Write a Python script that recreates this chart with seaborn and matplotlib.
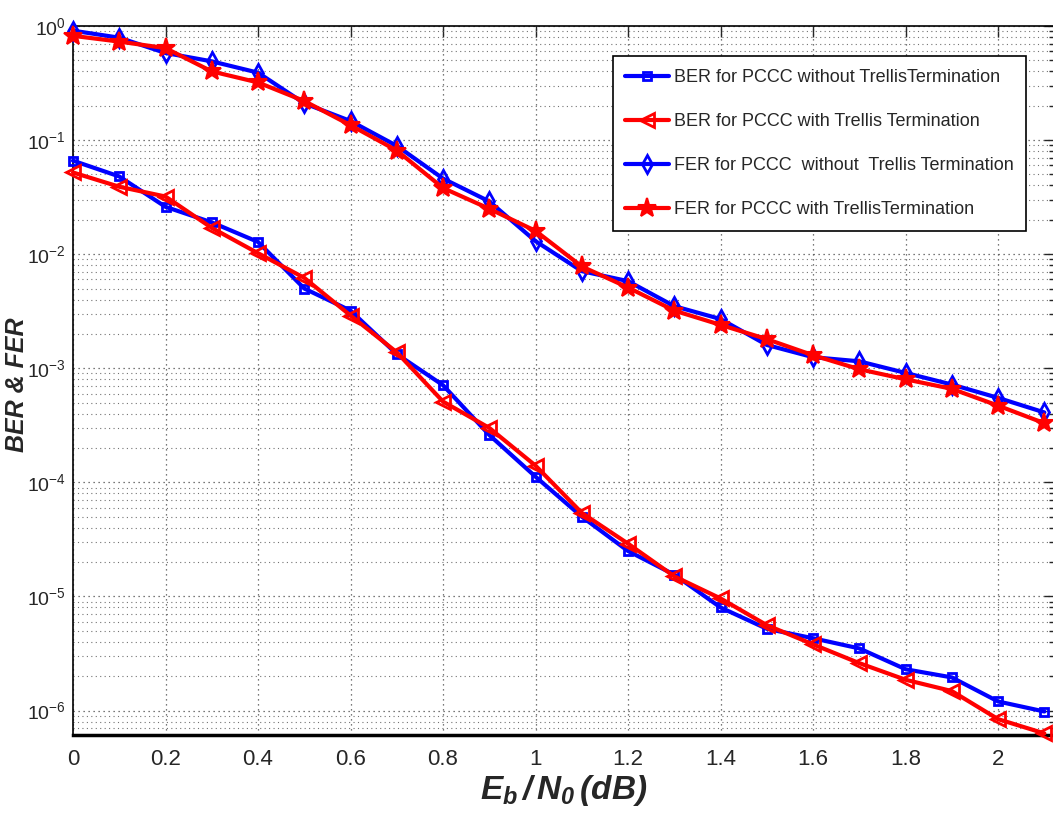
import numpy as np
import pandas as pd
import matplotlib
matplotlib.use("Agg")
import matplotlib.pyplot as plt
import matplotlib.ticker as mticker
import seaborn as sns

# ---------------------------
# DATA
# ---------------------------

ebn0 = [0.0, 0.1, 0.2, 0.3, 0.4, 0.5, 0.6, 0.7, 0.8, 0.9, 1.0,
        1.1, 1.2, 1.3, 1.4, 1.5, 1.6, 1.7, 1.8, 1.9, 2.0, 2.1]

ber_no_tt = [0.066, 0.048, 0.026, 0.019, 0.0128, 0.0050, 0.0032, 0.00133,
             0.00071, 0.00026, 0.000112, 5.0e-5, 2.5e-5, 1.55e-5, 8.0e-6,
             5.2e-6, 4.3e-6, 3.5e-6, 2.3e-6, 1.95e-6, 1.2e-6, 9.8e-7]
ber_tt = [0.052, 0.039, 0.032, 0.017, 0.0102, 0.0062, 0.0029, 0.00138,
          0.00051, 0.00030, 0.000140, 5.4e-5, 2.9e-5, 1.5e-5, 9.6e-6,
          5.6e-6, 3.8e-6, 2.6e-6, 1.86e-6, 1.48e-6, 8.4e-7, 6.3e-7]
fer_no_tt = [0.91, 0.79, 0.58, 0.49, 0.39, 0.21, 0.147, 0.089, 0.046,
             0.029, 0.013, 0.0071, 0.0058, 0.0035, 0.0027, 0.0016,
             0.00125, 0.00115, 0.00091, 0.00072, 0.00055, 0.00041]
fer_tt = [0.82, 0.73, 0.64, 0.40, 0.32, 0.22, 0.135, 0.081, 0.038,
          0.025, 0.016, 0.0078, 0.0051, 0.0032, 0.0024, 0.0018,
          0.0013, 0.00098, 0.00080, 0.00066, 0.00047, 0.00033]

labels = ["BER for PCCC without TrellisTermination",
          "BER for PCCC with Trellis Termination",
          "FER for PCCC  without  Trellis Termination",
          "FER for PCCC with TrellisTermination"]

# ---------------------------
# STYLE
# ---------------------------

sns.set_style("white")
plt.rcParams['font.family'] = ['Liberation Sans', 'DejaVu Sans']
plt.rcParams['mathtext.fontset'] = 'custom'
plt.rcParams['mathtext.rm'] = 'Liberation Sans:italic:bold'
plt.rcParams['mathtext.it'] = 'Liberation Sans:italic:bold'
plt.rcParams['mathtext.bf'] = 'Liberation Sans:italic:bold'

fig = plt.figure(figsize=(10.53, 8.16), dpi=100)
ax = fig.add_axes([73 / 1053, 81 / 816, 982 / 1053, 709 / 816])

series = [
    (ber_no_tt, labels[0], 'blue', dict(marker='s', markersize=6, fillstyle='none', markeredgewidth=2)),
    (ber_tt, labels[1], 'red', dict(marker='<', markersize=10, fillstyle='none', markeredgewidth=2)),
    (fer_no_tt, labels[2], 'blue', dict(marker='d', markersize=9, fillstyle='none', markeredgewidth=2)),
    (fer_tt, labels[3], 'red', dict(marker='*', markersize=14, markeredgewidth=1.5)),
]

for vals, lab, col, mk in series:
    df = pd.DataFrame({'EbN0': ebn0, 'err': vals})
    sns.lineplot(data=df, x='EbN0', y='err', ax=ax, color=col, linewidth=3,
                 label=lab, markeredgecolor=col, clip_on=False, zorder=3, **mk)

ax.set_yscale('log')
ax.set_xlim(0, 2.123)
ax.set_ylim(6.1e-7, 1)

ax.set_xticks([0, 0.2, 0.4, 0.6, 0.8, 1.0, 1.2, 1.4, 1.6, 1.8, 2.0])
ax.set_xticklabels(['0', '0.2', '0.4', '0.6', '0.8', '1', '1.2', '1.4', '1.6', '1.8', '2'])
ax.yaxis.set_major_locator(mticker.LogLocator(base=10, numticks=20))
ax.yaxis.set_minor_locator(mticker.LogLocator(base=10, subs=np.arange(2, 10), numticks=20))
ax.yaxis.set_minor_formatter(mticker.NullFormatter())

ax.tick_params(which='both', direction='in', top=True, right=True)
ax.tick_params(which='major', length=8, width=1)
ax.tick_params(which='minor', length=4, width=1)
ax.tick_params(axis='x', pad=10, labelsize=16)
ax.tick_params(axis='y', pad=5, labelsize=14)

ax.grid(True, which='major', axis='both', linestyle=(0, (1, 3)), color='0.3', linewidth=0.9)
ax.grid(True, which='minor', axis='y', linestyle=(0, (1, 3)), color='0.45', linewidth=0.8)

for s in ax.spines.values():
    s.set_color('black')
    s.set_linewidth(1.2)
ax.spines['bottom'].set_linewidth(2.5)

ax.set_xlabel(r'$E_b\,/\,N_0\,(dB)$', fontsize=24, labelpad=2)
ax.set_ylabel('')
fig.text(17 / 1053, 1 - 385 / 816, 'BER & FER', rotation=90, fontsize=18,
         fontweight='bold', fontstyle='italic', ha='center', va='center')

leg = ax.legend(loc='upper right', bbox_to_anchor=(0.98, 0.97), fontsize=13,
                frameon=True, fancybox=False, edgecolor='black', framealpha=1,
                labelspacing=1.5, handlelength=2.4, borderpad=0.7, handletextpad=0.3)
leg.get_frame().set_linewidth(1.2)

fig.savefig("out.png", dpi=100)
